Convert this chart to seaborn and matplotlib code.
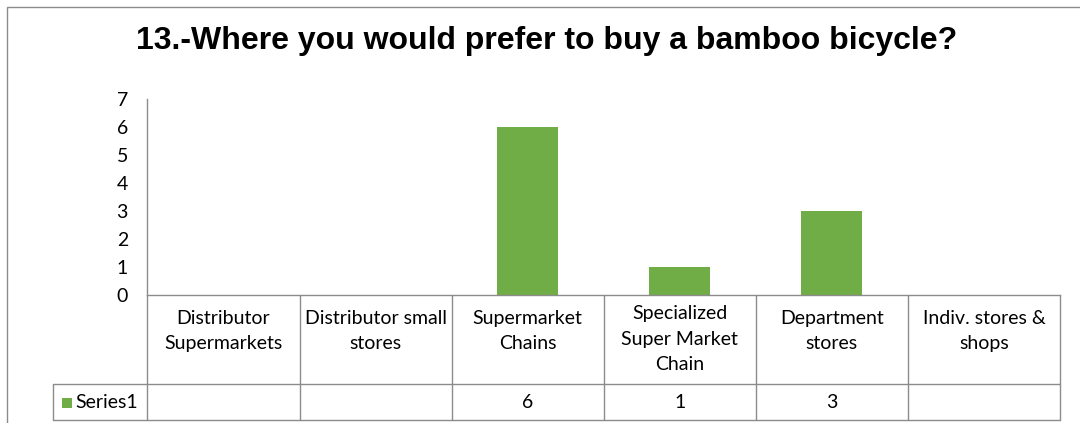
import numpy as np
import matplotlib
matplotlib.use("Agg")
import matplotlib.pyplot as plt
import matplotlib.transforms as mtransforms
from matplotlib.patches import Rectangle
import seaborn as sns
import pandas as pd

categories = ["Distributor\nSupermarkets", "Distributor small\nstores", "Supermarket\nChains",
              "Specialized\nSuper Market\nChain", "Department\nstores", "Indiv. stores &\nshops"]
values = [np.nan, np.nan, 6, 1, 3, np.nan]
series_name = "Series1"
yticks = [0, 1, 2, 3, 4, 5, 6, 7]
title = "13.-Where you would prefer to buy a bamboo bicycle?"

GREEN = "#70AD47"
GRID = "#8C8C8C"
FONT = "Lato"
FS = 14

sns.set_theme(style="white")
plt.rcParams['font.family'] = [FONT, 'DejaVu Sans']

W, H = 1080, 423
fig = plt.figure(figsize=(W / 100, H / 100), dpi=100)

ax_left, ax_right = 147.4, 1060.0
ax_top, ax_bot = 99.0, 294.8
ax = fig.add_axes([ax_left / W, 1 - ax_bot / H, (ax_right - ax_left) / W, (ax_bot - ax_top) / H])

df = pd.DataFrame({"cat": categories, "val": values})
sns.barplot(data=df, x="cat", y="val", order=categories, color=GREEN, saturation=1,
            width=0.4, ax=ax, edgecolor="none")

ax.set_xlim(-0.5, len(categories) - 0.5)
ax.set_ylim(0, 7)
ax.set_yticks(yticks)
ax.set_yticklabels([str(t) for t in yticks], fontsize=FS, color="#000000")
ax.tick_params(axis="y", length=0, pad=14)
ax.set_xticks([])
ax.set_xlabel("")
ax.set_ylabel("")
for s in ["top", "right"]:
    ax.spines[s].set_visible(False)
for s in ["left", "bottom"]:
    ax.spines[s].set_color(GRID)
    ax.spines[s].set_linewidth(1.0)

# data table under the plot
trans = mtransforms.blended_transform_factory(ax.transData, ax.transAxes)
axh = ax_bot - ax_top
hdr_bot = -(384.3 - ax_bot) / axh
row_bot = -(420.5 - ax_bot) / axh
label_left = -0.5 - (ax_left - 53.4) / ((ax_right - ax_left) / len(categories))

lkw = dict(color=GRID, linewidth=1.0, transform=trans, clip_on=False)
n = len(categories)
for i in range(n + 1):
    x = i - 0.5
    ax.plot([x, x], [0, row_bot], **lkw)
ax.plot([label_left, n - 0.5], [hdr_bot, hdr_bot], **lkw)
ax.plot([label_left, n - 0.5], [row_bot, row_bot], **lkw)
ax.plot([label_left, label_left], [hdr_bot, row_bot], **lkw)

for i, (c, v) in enumerate(zip(categories, values)):
    nl = c.count("\n") + 1
    yc = 331.0 if nl == 2 else 339.0
    ax.text(i, -(yc - ax_bot) / axh, c, transform=trans, ha="center", va="center",
            fontsize=FS, linespacing=1.62, color="#000000")
    if not np.isnan(v):
        ax.text(i, (hdr_bot + row_bot) / 2, f"{int(v)}", transform=trans, ha="center",
                va="center", fontsize=FS, color="#000000")

# legend key in the table
fig.patches.append(Rectangle((62 / W, 1 - 407.5 / H), 10 / W, 10 / H, transform=fig.transFigure,
                             facecolor=GREEN, edgecolor="none"))
fig.text(75 / W, 1 - 402.4 / H, series_name, ha="left", va="center", fontsize=FS, color="#000000")

# title
fig.text(547 / W, 1 - 41 / H, title, ha="center", va="center", fontsize=23,
         fontweight="bold", family=["Liberation Sans", "DejaVu Sans"], color="#000000")

# chart area border
fig.patches.append(Rectangle((7 / W, -0.2), 1.5, 1.2 - 7 / H, transform=fig.transFigure,
                             facecolor="none", edgecolor="#8C8C8C", linewidth=1.0))

fig.savefig("out.png", dpi=100, facecolor="white")
